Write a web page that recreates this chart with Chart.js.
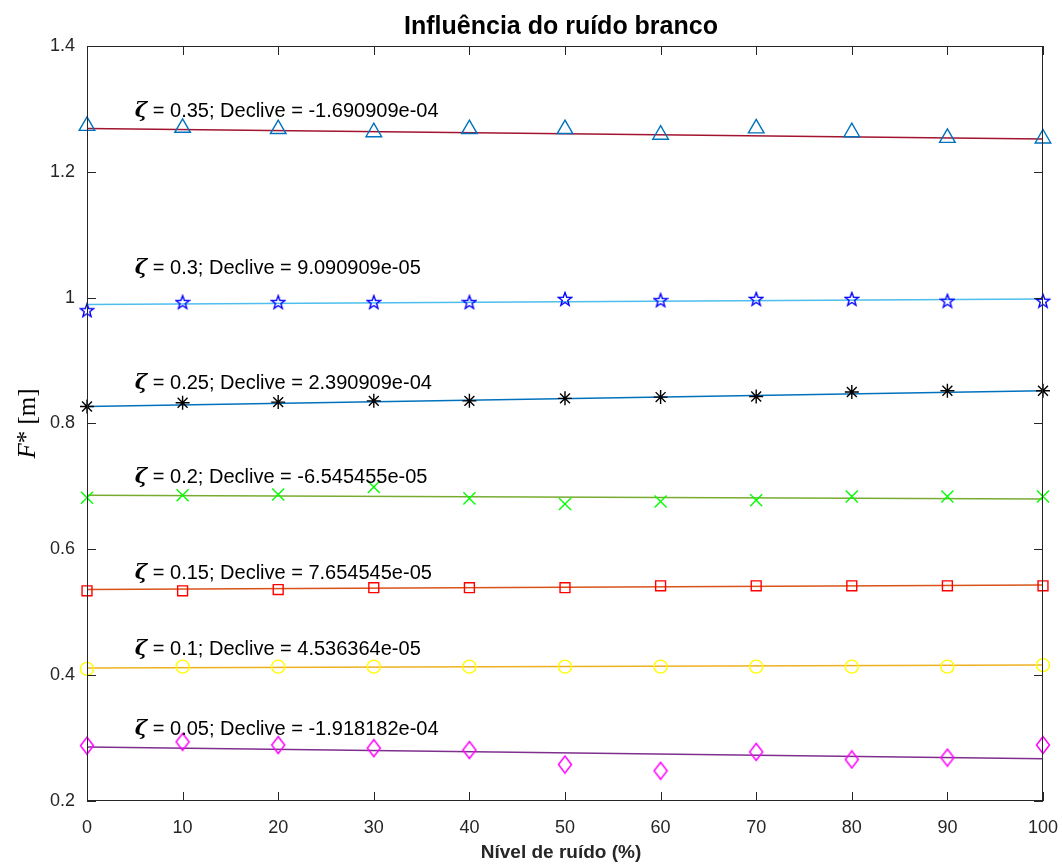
<!DOCTYPE html>
<html>
<head>
<meta charset="utf-8">
<script src="https://cdn.jsdelivr.net/npm/chart.js@4.4.1/dist/chart.umd.min.js"></script>
<style>
  html, body { margin: 0; padding: 0; background: #fff; }
  #wrap { width: 1062px; height: 866px; }
</style>
</head>
<body>
<div id="wrap"><canvas id="chart"></canvas></div>
<script>
// Noise level (%) on the x axis
const noiseLevels = [0, 10, 20, 30, 40, 50, 60, 70, 80, 90, 100];

// F* [m] for each damping ratio
const fZeta035 = [1.273, 1.270, 1.268, 1.263, 1.268, 1.268, 1.259, 1.269, 1.263, 1.254, 1.253];
const fZeta030 = [0.980, 0.993, 0.993, 0.993, 0.993, 0.998, 0.996, 0.998, 0.998, 0.995, 0.995];
const fZeta025 = [0.827, 0.833, 0.834, 0.836, 0.836, 0.840, 0.842, 0.843, 0.850, 0.852, 0.852];
const fZeta020 = [0.682, 0.686, 0.687, 0.699, 0.681, 0.672, 0.676, 0.678, 0.684, 0.684, 0.684];
const fZeta015 = [0.534, 0.534, 0.536, 0.539, 0.539, 0.539, 0.542, 0.542, 0.542, 0.542, 0.542];
const fZeta010 = [0.410, 0.4135, 0.4135, 0.4135, 0.4135, 0.4135, 0.4135, 0.4135, 0.4135, 0.4135, 0.416];
const fZeta005 = [0.288, 0.294, 0.289, 0.284, 0.281, 0.258, 0.248, 0.278, 0.266, 0.269, 0.289];

// linear fit, value at 0 % and at 100 %
const fitAt0   = [1.269, 0.989, 0.827, 0.686, 0.536, 0.4115, 0.286];
const fitAt100 = [1.252, 0.998, 0.852, 0.680, 0.5435, 0.416, 0.267];

const zetaLabels  = ['0.35', '0.3', '0.25', '0.2', '0.15', '0.1', '0.05'];
const slopeLabels = ['-1.690909e-04', '9.090909e-05', '2.390909e-04', '-6.545455e-05',
                     '7.654545e-05', '4.536364e-05', '-1.918182e-04'];
const labelX = 5;
const labelY = [1.296, 1.046, 0.864, 0.714, 0.562, 0.441, 0.313];

const xTicks = [0, 10, 20, 30, 40, 50, 60, 70, 80, 90, 100];
const yTicks = [0.2, 0.4, 0.6, 0.8, 1, 1.2, 1.4];
const yTickLabels = ['0.2', '0.4', '0.6', '0.8', '1', '1.2', '1.4'];

const axisColor = '#262626';
const sans = "'Liberation Sans', Arial, Helvetica, sans-serif";

// markers not built into Chart.js
function makePentagram(color) {
    const c = document.createElement('canvas');
    c.width = 16; c.height = 16;
    const g = c.getContext('2d');
    g.strokeStyle = color;
    g.lineWidth = 1.4;
    g.beginPath();
    for (let i = 0; i < 10; i++) {
        const r = i % 2 === 0 ? 7 : 2.9;
        const a = -Math.PI / 2 + i * Math.PI / 5;
        const px = 8 + r * Math.cos(a), py = 8.6 + r * Math.sin(a);
        if (i === 0) g.moveTo(px, py); else g.lineTo(px, py);
    }
    g.closePath();
    g.stroke();
    return c;
}
function makeDiamond(color) {
    const c = document.createElement('canvas');
    c.width = 16; c.height = 20;
    const g = c.getContext('2d');
    g.strokeStyle = color;
    g.lineWidth = 1.5;
    g.beginPath();
    g.moveTo(8, 1.5); g.lineTo(14.5, 10); g.lineTo(8, 18.5); g.lineTo(1.5, 10);
    g.closePath();
    g.stroke();
    return c;
}

const series = [
    { values: fZeta035, marker: 'triangle', radius: 9, color: '#0072BD', fit: '#A2142F' },
    { values: fZeta030, marker: makePentagram('#0000FF'), radius: 8, color: '#0000FF', fit: '#4DBEEE' },
    { values: fZeta025, marker: 'star', radius: 7, color: '#000000', fit: '#0072BD' },
    { values: fZeta020, marker: 'crossRot', radius: 8.5, color: '#00FF00', fit: '#77AC30' },
    { values: fZeta015, marker: 'rect', radius: 7, color: '#FF0000', fit: '#D95319' },
    { values: fZeta010, marker: 'circle', radius: 6.5, color: '#FFFF00', fit: '#EDB120' },
    { values: fZeta005, marker: makeDiamond('#FF00FF'), radius: 9, color: '#FF00FF', fit: '#7E2F8E' }
];

const datasets = [];
series.forEach((s, i) => {
    datasets.push({
        label: 'fit ' + zetaLabels[i],
        data: [{ x: noiseLevels[0], y: fitAt0[i] }, { x: noiseLevels[noiseLevels.length - 1], y: fitAt100[i] }],
        showLine: true,
        borderColor: s.fit,
        borderWidth: 1.5,
        pointRadius: 0,
        order: 2
    });
    datasets.push({
        label: 'zeta ' + zetaLabels[i],
        data: noiseLevels.map((x, k) => ({ x: x, y: s.values[k] })),
        showLine: false,
        pointStyle: s.marker,
        pointRadius: s.radius,
        pointBorderColor: s.color,
        pointBackgroundColor: 'rgba(0,0,0,0)',
        pointBorderWidth: 1.4,
        clip: false,
        order: 1
    });
});

// box, inward ticks, title, axis labels and text annotations
const decorations = {
    id: 'decorations',
    afterDraw(chart) {
        const { ctx, chartArea: a, scales } = chart;
        const xs = scales.x, ys = scales.y;
        ctx.save();
        ctx.strokeStyle = axisColor;
        ctx.lineWidth = 1;
        ctx.strokeRect(a.left + 0.5, a.top + 0.5, a.right - a.left - 1, a.bottom - a.top - 1);
        const tl = 9;
        ctx.beginPath();
        xTicks.forEach(v => {
            const px = Math.round(xs.getPixelForValue(v)) + 0.5;
            ctx.moveTo(px, a.bottom); ctx.lineTo(px, a.bottom - tl);
            ctx.moveTo(px, a.top); ctx.lineTo(px, a.top + tl);
        });
        yTicks.forEach(v => {
            const py = Math.round(ys.getPixelForValue(v)) + 0.5;
            ctx.moveTo(a.left, py); ctx.lineTo(a.left + tl, py);
            ctx.moveTo(a.right, py); ctx.lineTo(a.right - tl, py);
        });
        ctx.stroke();

        // title
        ctx.fillStyle = '#000';
        ctx.textAlign = 'center';
        ctx.textBaseline = 'middle';
        ctx.font = 'bold 25px ' + sans;
        ctx.fillText('Influência do ruído branco', (a.left + a.right) / 2 - 4, 27);

        // x axis title
        ctx.fillStyle = axisColor;
        ctx.font = 'bold 19px ' + sans;
        ctx.fillText('Nível de ruído (%)', (a.left + a.right) / 2 - 4, 853);

        // y axis title: F* [m]
        ctx.save();
        ctx.translate(28, (a.top + a.bottom) / 2);
        ctx.rotate(-Math.PI / 2);
        ctx.textAlign = 'left';
        ctx.textBaseline = 'middle';
        const fF = "italic 25px 'Liberation Serif', 'DejaVu Serif', serif";
        const fS = "25px 'Liberation Serif', 'DejaVu Serif', serif";
        ctx.font = fF;
        const w1 = ctx.measureText('F').width;
        ctx.font = fS;
        const w2 = ctx.measureText('*').width;
        const w3 = ctx.measureText(' [m]').width;
        let cx = -(w1 + w2 + w3) / 2;
        ctx.fillStyle = '#000';
        ctx.font = fF; ctx.fillText('F', cx, 0); cx += w1;
        ctx.font = fS; ctx.fillText('*', cx, -1); cx += w2;
        ctx.fillText(' [m]', cx, 0);
        ctx.restore();

        // annotations
        ctx.textAlign = 'left';
        ctx.textBaseline = 'middle';
        ctx.fillStyle = '#000';
        zetaLabels.forEach((z, i) => {
            let px = xs.getPixelForValue(labelX);
            const py = ys.getPixelForValue(labelY[i]);
            ctx.font = "italic bold 21px 'DejaVu Serif', serif";
            ctx.fillText('ζ', px, py);
            px += ctx.measureText('ζ').width;
            ctx.font = '20px ' + sans;
            ctx.fillText(' = ' + z + '; Declive = ' + slopeLabels[i], px, py);
        });
        ctx.restore();
    }
};

new Chart(document.getElementById('chart'), {
    type: 'scatter',
    data: { datasets: datasets },
    options: {
        responsive: true,
        maintainAspectRatio: false,
        animation: false,
        layout: { padding: { top: 46, right: 19, left: 0, bottom: 0 } },
        plugins: {
            legend: { display: false },
            tooltip: { enabled: false },
            title: { display: false }
        },
        scales: {
            x: {
                type: 'linear',
                min: 0,
                max: 100,
                grid: { display: false },
                border: { display: false },
                afterBuildTicks: s => { s.ticks = xTicks.map(v => ({ value: v })); },
                afterFit: s => { s.height = 65; s.paddingLeft = 0; s.paddingRight = 0; },
                ticks: {
                    color: axisColor,
                    padding: 8,
                    font: { family: sans, size: 18 },
                    callback: v => String(v)
                }
            },
            y: {
                type: 'linear',
                min: 0.2,
                max: 1.4,
                grid: { display: false },
                border: { display: false },
                afterBuildTicks: s => { s.ticks = yTicks.map(v => ({ value: v })); },
                afterFit: s => { s.width = 87; s.paddingTop = 0; s.paddingBottom = 0; },
                ticks: {
                    color: axisColor,
                    padding: 4,
                    font: { family: sans, size: 18 },
                    callback: v => yTickLabels[yTicks.findIndex(t => Math.abs(t - v) < 1e-9)]
                }
            }
        }
    },
    plugins: [decorations]
});
</script>
</body>
</html>
